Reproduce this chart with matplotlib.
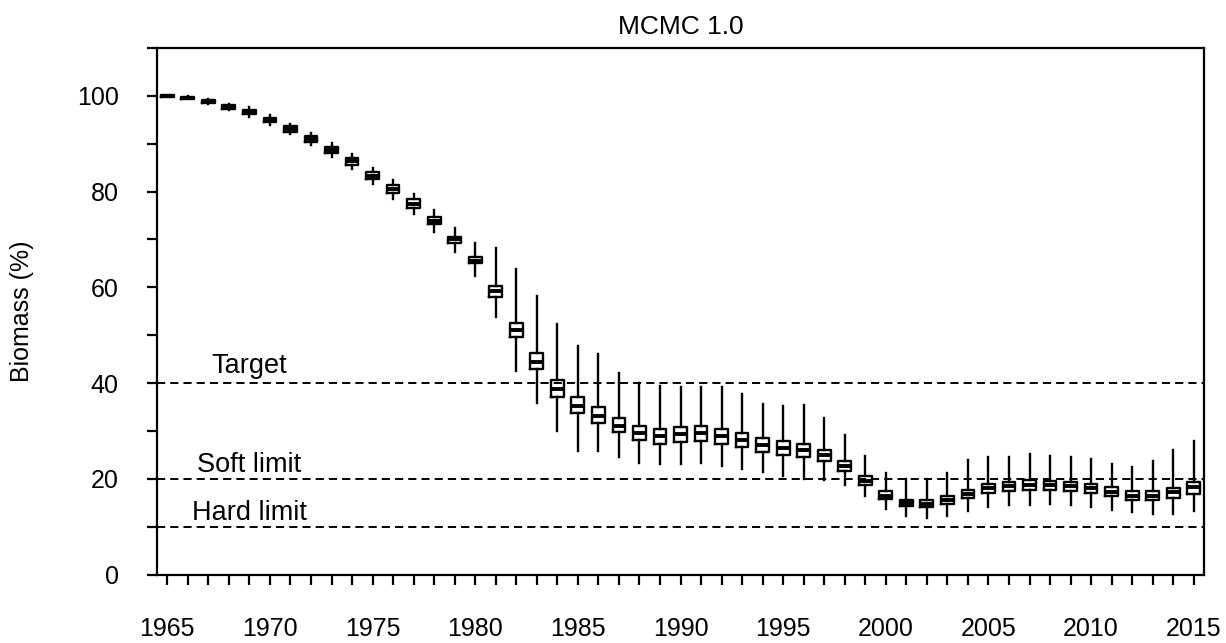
import matplotlib
matplotlib.use("Agg")
import matplotlib.pyplot as plt
from matplotlib.ticker import MultipleLocator, FixedLocator

plt.rcParams['font.family'] = ['Liberation Sans', 'DejaVu Sans']

years = list(range(1965, 2016))
lo = [99.8, 99.3, 98.4, 97.0, 95.5, 94.0, 92.0, 89.8, 87.3, 84.8,
      81.5, 78.5, 75.3, 71.6, 67.3, 62.3, 53.7, 42.5, 35.9, 30.0,
      25.7, 25.7, 24.5, 23.3, 23.0, 23.1, 23.3, 22.6, 22.1, 21.4,
      20.5, 20.0, 19.8, 18.6, 16.3, 13.7, 12.3, 11.8, 12.3, 13.2,
      14.2, 14.6, 14.6, 14.8, 14.6, 14.1, 13.5, 13.0, 12.6, 12.6, 13.2]
q1 = [99.8, 99.4, 98.6, 97.3, 96.2, 94.6, 92.5, 90.4, 88.0, 85.6,
      82.6, 79.7, 76.6, 73.2, 69.3, 65.0, 58.0, 49.7, 42.9, 37.1,
      33.7, 31.6, 29.8, 28.2, 27.3, 27.7, 27.9, 27.3, 26.6, 25.6,
      24.9, 24.6, 23.7, 21.6, 18.8, 15.8, 14.4, 14.1, 14.7, 16.0,
      17.0, 17.4, 17.7, 17.7, 17.4, 17.0, 16.3, 15.6, 15.5, 16.0, 16.8]
med = [100.0, 99.6, 98.9, 97.7, 96.6, 95.0, 93.1, 91.0, 88.7, 86.3,
       83.3, 80.5, 77.5, 73.9, 70.0, 65.6, 59.2, 51.1, 44.4, 38.7,
       35.2, 33.1, 31.0, 29.6, 28.9, 29.4, 29.6, 28.9, 28.2, 27.0,
       26.5, 26.1, 24.9, 22.6, 19.6, 16.5, 15.0, 14.8, 15.6, 16.9,
       18.1, 18.4, 18.8, 18.8, 18.4, 18.1, 17.3, 16.5, 16.5, 17.2, 18.2]
q3 = [100.2, 99.8, 99.2, 98.1, 97.0, 95.4, 93.7, 91.6, 89.4, 87.0,
      84.0, 81.3, 78.4, 74.6, 70.6, 66.3, 60.3, 52.6, 46.3, 40.6,
      37.1, 34.9, 32.8, 31.0, 30.3, 30.8, 31.0, 30.5, 29.6, 28.6,
      27.9, 27.3, 26.1, 23.7, 20.5, 17.4, 15.6, 15.5, 16.3, 17.7,
      18.9, 19.3, 19.7, 19.6, 19.3, 18.9, 18.2, 17.4, 17.4, 18.1, 19.3]
hi = [100.2, 99.9, 99.4, 98.4, 97.7, 96.0, 94.1, 92.2, 90.1, 87.8,
      85.0, 82.5, 79.6, 76.1, 72.4, 69.2, 68.2, 63.9, 58.2, 52.3,
      47.8, 46.1, 42.2, 40.1, 39.3, 39.2, 39.2, 39.2, 37.8, 35.7,
      35.1, 35.4, 32.8, 29.1, 24.7, 21.2, 20.0, 20.0, 21.2, 24.0,
      24.5, 24.5, 25.1, 24.7, 24.5, 24.2, 23.1, 22.4, 23.8, 26.1, 27.9]

ref_levels = [40, 20, 10]
ref_labels = ["Target", "Soft limit", "Hard limit"]
label_year = 1969
label_offsets = [2.0, 1.5, 1.4]
xtick_labels = [str(y) for y in range(1965, 2016, 5)]

fig = plt.figure(figsize=(12.26, 6.43), dpi=100)
ax = fig.add_axes([157/1226, 1-574.5/643, (1204-157)/1226, (574.5-48)/643])

stats = []
for y, a, b, m, c, d in zip(years, lo, q1, med, q3, hi):
    stats.append(dict(whislo=a, q1=b, med=m, q3=c, whishi=d, fliers=[], label=str(y)))

ax.bxp(stats, positions=years, widths=0.62, showfliers=False, showcaps=False,
       boxprops=dict(color='black', linewidth=1.7),
       whiskerprops=dict(color='black', linewidth=1.7, linestyle='-'),
       medianprops=dict(color='black', linewidth=2.8),
       patch_artist=False, manage_ticks=False)

for lvl, lab, off in zip(ref_levels, ref_labels, label_offsets):
    ax.axhline(lvl, color='black', linewidth=1.4, linestyle=(0, (4.2, 2.6)), zorder=0)
    ax.text(label_year, lvl + off, lab, ha='center', va='baseline', fontsize=19.5)

ax.set_xlim(1964.5, 2015.5)
ax.set_ylim(0, 110)

ax.xaxis.set_major_locator(FixedLocator(list(range(1965, 2016, 5))))
ax.set_xticklabels(xtick_labels)
ax.xaxis.set_minor_locator(MultipleLocator(1))
ax.tick_params(axis='x', which='both', direction='out', length=7.5, width=1.6, labelsize=18, pad=23)

ax.yaxis.set_major_locator(FixedLocator([0, 20, 40, 60, 80, 100]))
ax.yaxis.set_minor_locator(FixedLocator([10, 30, 50, 70, 90, 110]))
ax.tick_params(axis='y', which='both', direction='out', length=7.5, width=1.6, labelsize=18, pad=20)

for s in ax.spines.values():
    s.set_linewidth(1.6)

ax.set_ylabel("Biomass (%)", fontsize=18)
ax.yaxis.set_label_coords(-(157 - 34) / 1047, 0.5)
ax.set_title("MCMC 1.0", fontsize=19, pad=10)

fig.savefig("out.png", dpi=100)
